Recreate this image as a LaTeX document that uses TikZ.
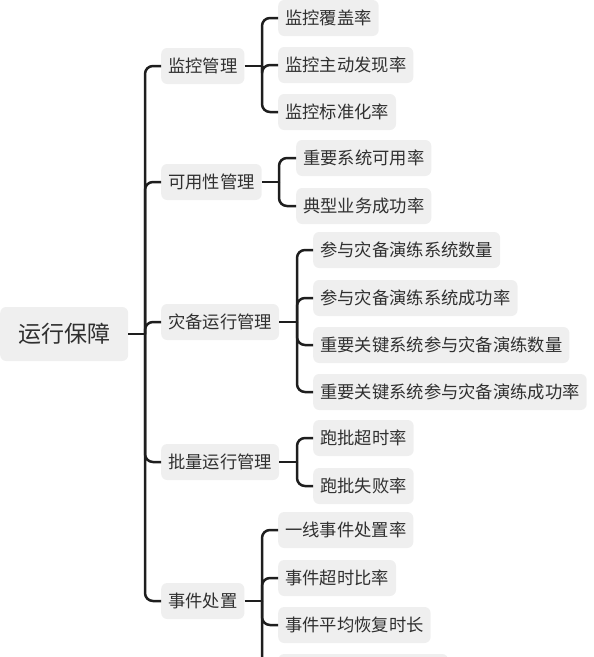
\documentclass[tikz,border=0pt]{standalone}
\usepackage{fontspec}
\newfontfamily\cjk{Noto Sans CJK SC}
\definecolor{boxfill}{HTML}{EFEFEF}
\definecolor{linec}{HTML}{1E1E1E}
\definecolor{txt}{HTML}{303030}
\begin{document}
\begin{tikzpicture}[x=1pt,y=-1pt,
  item/.style={fill=boxfill, rounded corners=6pt, text=txt,
    font=\cjk\fontsize{17.3}{20}\selectfont, inner xsep=7pt, inner ysep=0pt,
    minimum height=36pt, anchor=west},
  rootbox/.style={item, font=\cjk\fontsize{23}{27}\selectfont,
    minimum height=54pt, minimum width=128pt, inner xsep=16pt},
  link/.style={draw=linec, line width=2.5pt, rounded corners=8pt}]
\useasboundingbox (0,0) rectangle (594,657);
\clip (0,0) rectangle (594,657);

% root
\node[rootbox] (root) at (0,334) {运行保障};
\coordinate (rs) at (145,334);

% level 1
\node[item] (a) at (161,66) {监控管理};
\node[item] (b) at (161,182) {可用性管理};
\node[item] (c) at (161,322) {灾备运行管理};
\node[item] (d) at (161,462) {批量运行管理};
\node[item] (e) at (161,601) {事件处置};

% spines
\coordinate (as) at (262,66);
\coordinate (bs) at (279,182);
\coordinate (cs) at (297,322);
\coordinate (ds) at (297,462);
\coordinate (es) at (262,601);

% level 2
\node[item] (a1) at (278,18) {监控覆盖率};
\node[item] (a2) at (278,65) {监控主动发现率};
\node[item] (a3) at (278,112) {监控标准化率};

\node[item] (b1) at (296,158) {重要系统可用率};
\node[item] (b2) at (296,206) {典型业务成功率};

\node[item] (c1) at (313,250) {参与灾备演练系统数量};
\node[item] (c2) at (313,298) {参与灾备演练系统成功率};
\node[item] (c3) at (313,345) {重要关键系统参与灾备演练数量};
\node[item] (c4) at (313,392) {重要关键系统参与灾备演练成功率};

\node[item] (d1) at (313,438) {跑批超时率};
\node[item] (d2) at (313,486) {跑批失败率};

\node[item] (e1) at (278,530) {一线事件处置率};
\node[item] (e2) at (278,578) {事件超时比率};
\node[item] (e3) at (278,625) {事件平均恢复时长};
\node[item, minimum width=170pt] (e4) at (278,672) {};

% connectors
\draw[link] (root.east) -- (rs);
\foreach \n in {a,b,c,d,e} \draw[link] (rs) |- (\n.west);

\draw[link] (a.east) -- (as);
\foreach \n in {a1,a2,a3} \draw[link] (as) |- (\n.west);
\draw[link] (b.east) -- (bs);
\foreach \n in {b1,b2} \draw[link] (bs) |- (\n.west);
\draw[link] (c.east) -- (cs);
\foreach \n in {c1,c2,c3,c4} \draw[link] (cs) |- (\n.west);
\draw[link] (d.east) -- (ds);
\foreach \n in {d1,d2} \draw[link] (ds) |- (\n.west);
\draw[link] (e.east) -- (es);
\foreach \n in {e1,e2,e3,e4} \draw[link] (es) |- (\n.west);
\end{tikzpicture}
\end{document}
